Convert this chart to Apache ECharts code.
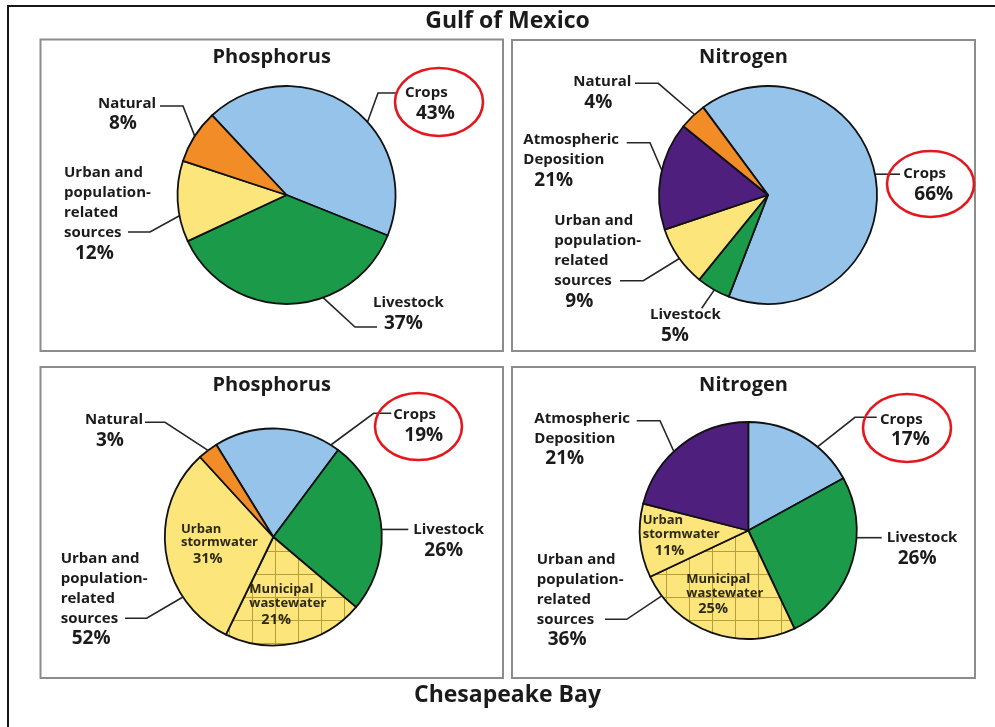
<!DOCTYPE html>
<html><head><meta charset="utf-8">
<script src="https://cdn.jsdelivr.net/npm/echarts@6/dist/echarts.min.js"></script>
<style>html,body{margin:0;padding:0;background:#fff}#c{width:995px;height:727px}</style>
</head><body><div id="c"></div>
<script>
// ---------------- DATA ----------------
const regionTitles = ['Gulf of Mexico', 'Chesapeake Bay'];
const panelTitles = ['Phosphorus', 'Nitrogen', 'Phosphorus', 'Nitrogen'];

// Gulf of Mexico - Phosphorus (clockwise order)
const gomPCategories = ['Crops', 'Livestock', 'Urban and\npopulation-\nrelated\nsources', 'Natural'];
const gomPValues = [43, 37, 12, 8];
const gomPPrinted = ['43%', '37%', '12%', '8%'];

// Gulf of Mexico - Nitrogen (slice sizes as drawn; printed percentages as labelled)
const gomNCategories = ['Crops', 'Livestock', 'Urban and\npopulation-\nrelated\nsources', 'Atmospheric\nDeposition', 'Natural'];
const gomNValues = [66, 5, 9, 16, 4];
const gomNPrinted = ['66%', '5%', '9%', '21%', '4%'];

// Chesapeake Bay - Phosphorus
const cbPCategories = ['Crops', 'Livestock', 'Municipal\nwastewater', 'Urban\nstormwater', 'Natural'];
const cbPValues = [19, 26, 21, 31, 3];
const cbPGroupName = 'Urban and\npopulation-\nrelated\nsources';
const cbPGroups = [[0], [1], [2, 3], [4]];

// Chesapeake Bay - Nitrogen
const cbNCategories = ['Crops', 'Livestock', 'Municipal\nwastewater', 'Urban\nstormwater', 'Atmospheric\nDeposition'];
const cbNValues = [17, 26, 25, 11, 21];
const cbNGroupName = 'Urban and\npopulation-\nrelated\nsources';
const cbNGroups = [[0], [1], [2, 3], [4]];

// ---------------- STYLE / LAYOUT ----------------
const FONT = '"Open Sans", "Noto Sans", sans-serif';
const NAME_FS = 15, NAME_LH = 20, PCT_FS = 19, PCT_LH = 21;
const IN_FS = 13, IN_LH = 13.5, IN_PCT_FS = 14.5, IN_PCT_LH = 19;
const TEXT = '#1b1b1b';

const hatch = document.createElement('canvas');
hatch.width = 23; hatch.height = 23;
(function () {
  const g = hatch.getContext('2d');
  g.fillStyle = '#FCE57A'; g.fillRect(0, 0, 23, 23);
  g.strokeStyle = '#B89E3A'; g.lineWidth = 1;
  g.beginPath(); g.moveTo(22.5, 0); g.lineTo(22.5, 23); g.moveTo(0, 22.5); g.lineTo(23, 22.5); g.stroke();
})();

const colorOf = {
  'Crops': '#95C3EA',
  'Livestock': '#1B9A4A',
  'Urban and\npopulation-\nrelated\nsources': '#FCE57A',
  'Urban\nstormwater': '#FCE57A',
  'Municipal\nwastewater': { image: hatch, repeat: 'repeat' },
  'Natural': '#F28C27',
  'Atmospheric\nDeposition': '#4F1F7E'
};

const P = {
  tl: { cx: 286.5, cy: 195, r: 109, start: 133 },
  tr: { cx: 768, cy: 195, r: 109, start: 126.5 },
  bl: { cx: 273.3, cy: 537, r: 108.5, start: 121.7 },
  br: { cx: 748.3, cy: 530.5, r: 108.5, start: 90 }
};

// leader-line / label placement (relative to pie centre)
const outerCfg = {
  tl: [
    { a: 42, e: [91.5, -102], hx: 110.5, tx: 118.5, ty: -102 },
    { a: -70.4, e: [68.5, 132], hx: 90.5, tx: 86.5, ty: 108 },
    { a: -169, e: [-136.5, 37], hx: -158.5, tx: -222.5, ty: -22 },
    { a: 147.3, e: [-103.5, -89], hx: -126.5, tx: -188.5, ty: -91.7 }
  ],
  tr: [
    { a: 11, e: null, hx: 132, tx: 135.3, ty: -21 },
    { a: -119.5, e: [-66.3, 113.3], hx: null, tx: -118, ty: 120 },
    { a: -144.4, e: [-124.7, 85.7], hx: -148, tx: -213.7, ty: 25.7 },
    { a: 166.9, e: [-118, -52.3], hx: -141.3, tx: -244.7, ty: -55 },
    { a: 132.4, e: [-109.7, -111.7], hx: -133, tx: -194.7, ty: -113.3 }
  ],
  bl: [
    { a: 58, e: [100.4, -123.7], hx: 118, tx: 120, ty: -122 },
    { a: 4, e: null, hx: 135, tx: 140, ty: -7 },
    { a: -146.4, e: [-126.6, 81.3], hx: -148.3, tx: -212.6, ty: 21.3 },
    { a: 127, e: [-108.3, -114.7], hx: -128.3, tx: -188.3, ty: -117 }
  ],
  br: [
    { a: 50.4, e: [106.7, -113.2], hx: 128.4, tx: 131.7, ty: -111.2 },
    { a: -3.8, e: null, hx: 133.4, tx: 138.4, ty: 7.2 },
    { a: -142.9, e: [-121.6, 88.8], hx: -143.3, tx: -211.6, ty: 28.8 },
    { a: 133.3, e: [-88.3, -109.8], hx: -111.6, tx: -214, ty: -112.2 }
  ]
};
const insideFrac = { bl: { 2: 0.64, 3: 0.5 }, br: { 2: 0.63, 3: 0.62 } };

function outerLayout(pp, cfgs) {
  return function (p) {
    const c = cfgs[p.dataIndex];
    if (!c) return {};
    const rad = c.a * Math.PI / 180;
    const ax = pp.cx + pp.r * Math.cos(rad), ay = pp.cy - pp.r * Math.sin(rad);
    const ex = c.e ? pp.cx + c.e[0] : ax, ey = c.e ? pp.cy + c.e[1] : ay;
    const hx = c.hx != null ? pp.cx + c.hx : ex;
    return {
      x: pp.cx + c.tx, y: pp.cy + c.ty - NAME_LH / 2, align: 'left', verticalAlign: 'top',
      labelLinePoints: [[ax, ay], [ex, ey], [hx, ey]]
    };
  };
}
function innerLayout(pp, fr) {
  return function (p) {
    const f = fr[p.dataIndex];
    if (f == null || !p.labelRect) return {};
    const lr = p.labelRect;
    const mx = lr.x + lr.width / 2, my = lr.y + lr.height / 2;
    const dx = mx - pp.cx, dy = my - pp.cy, d = Math.hypot(dx, dy) || 1;
    const nx = pp.cx + dx / d * f * pp.r, ny = pp.cy + dy / d * f * pp.r;
    return { x: nx - lr.width / 2, y: ny - lr.height / 2, align: 'left', verticalAlign: 'top' };
  };
}
function fmtOuter(names, printed) {
  return function (p) {
    const n = names[p.dataIndex].split('\n').map(s => '{n|' + s + '}').join('\n');
    return n + '\n{p|' + printed[p.dataIndex] + '}';
  };
}
const richOuter = {
  n: { fontSize: NAME_FS, lineHeight: NAME_LH, fontWeight: 'bold', fontFamily: FONT, color: TEXT },
  p: { fontSize: PCT_FS, lineHeight: PCT_LH, fontWeight: 'bold', fontFamily: FONT, color: TEXT, padding: [0, 0, 0, 11] }
};
const richInner = {
  n: { fontSize: IN_FS, lineHeight: IN_LH, fontWeight: 'bold', fontFamily: FONT, color: '#2e2a12' },
  p: { fontSize: IN_PCT_FS, lineHeight: IN_PCT_LH, fontWeight: 'bold', fontFamily: FONT, color: '#2e2a12', padding: [0, 0, 0, 12] }
};
const sliceBorder = { borderColor: '#111', borderWidth: 1.8 };
const leader = { show: true, length: 4, length2: 4, lineStyle: { color: '#262626', width: 1.6 } };

function basePie(pp) {
  return {
    type: 'pie', center: [pp.cx, pp.cy], radius: pp.r, startAngle: pp.start, clockwise: true,
    avoidLabelOverlap: false, animation: false, silent: true, emphasis: { disabled: true },
    minAngle: 0, minShowLabelAngle: 0
  };
}

// fully drawn + outer-labelled pie (Gulf panels)
function fullPie(pp, cats, vals, printed, cfgs) {
  return Object.assign(basePie(pp), {
    z: 3,
    data: cats.map((c, i) => ({ name: c, value: vals[i], itemStyle: Object.assign({ color: colorOf[c] }, sliceBorder) })),
    label: { show: true, position: 'outside', formatter: fmtOuter(cats, printed), rich: richOuter, color: TEXT },
    labelLine: leader,
    labelLayout: outerLayout(pp, cfgs)
  });
}
// detail pie with inside labels for sub-slices (Chesapeake panels)
function detailPie(pp, cats, vals, fr) {
  return Object.assign(basePie(pp), {
    z: 2,
    data: cats.map((c, i) => ({
      name: c, value: vals[i], itemStyle: Object.assign({ color: colorOf[c] }, sliceBorder),
      label: { show: fr[i] != null }
    })),
    label: {
      show: false, position: 'inside', textBorderWidth: 0, color: '#2e2a12',
      formatter: p => p.name.split('\n').map(s => '{n|' + s + '}').join('\n') + '\n{p|' + p.value + '%}',
      rich: richInner
    },
    labelLine: { show: false },
    labelLayout: innerLayout(pp, fr)
  });
}
// transparent group pie carrying outer labels
function groupPie(pp, cats, vals, groups, groupName, cfgs) {
  const names = groups.map(g => g.length > 1 ? groupName : cats[g[0]]);
  const gv = groups.map(g => g.reduce((s, k) => s + vals[k], 0));
  const printed = gv.map(v => v + '%');
  return Object.assign(basePie(pp), {
    z: 4,
    data: names.map((n, i) => ({ name: n, value: gv[i], itemStyle: { color: 'rgba(0,0,0,0)', borderWidth: 0 } })),
    label: { show: true, position: 'outside', formatter: fmtOuter(names, printed), rich: richOuter, color: TEXT },
    labelLine: leader,
    labelLayout: outerLayout(pp, cfgs)
  });
}

const boxes = [
  [40.5, 39.5, 462.5, 311.5], [512, 40, 463, 311],
  [40.5, 367, 462.5, 311], [512, 367, 463, 311]
];
const titlePos = [[271.7, 57.5], [743.5, 57.5], [271.7, 385], [743.5, 385]];
const ellipses = [[439, 102, 44, 34], [930.5, 184, 43.5, 33], [418.5, 426.5, 43.5, 33.5], [907, 428, 44, 34]];

const graphics = [];
graphics.push({ type: 'polyline', z: 1, shape: { points: [[8, 727], [8, 6], [995, 6]] }, style: { stroke: '#161616', lineWidth: 2, fill: null } });
boxes.forEach(b => graphics.push({ type: 'rect', z: 1, shape: { x: b[0], y: b[1], width: b[2], height: b[3] }, style: { stroke: '#8c8c8c', lineWidth: 2, fill: '#fff' } }));
graphics.push({ type: 'text', z: 5, style: { text: regionTitles[0], x: 507.5, y: 21, align: 'center', verticalAlign: 'middle', fontSize: 23, fontWeight: 'bold', fontFamily: FONT, fill: TEXT } });
graphics.push({ type: 'text', z: 5, style: { text: regionTitles[1], x: 507.5, y: 695, align: 'center', verticalAlign: 'middle', fontSize: 23, fontWeight: 'bold', fontFamily: FONT, fill: TEXT } });
panelTitles.forEach((t, i) => graphics.push({ type: 'text', z: 5, style: { text: t, x: titlePos[i][0], y: titlePos[i][1], align: 'center', verticalAlign: 'middle', fontSize: 20, fontWeight: 'bold', fontFamily: FONT, fill: TEXT } }));
ellipses.forEach(e => graphics.push({ type: 'ellipse', z: 100, shape: { cx: e[0], cy: e[1], rx: e[2], ry: e[3] }, style: { stroke: '#E3171D', lineWidth: 2.6, fill: null } }));

const chart = echarts.init(document.getElementById('c'), null, { renderer: 'canvas', width: 995, height: 727 });
chart.setOption({
  backgroundColor: '#fff',
  animation: false,
  graphic: { elements: graphics },
  series: [
    fullPie(P.tl, gomPCategories, gomPValues, gomPPrinted, outerCfg.tl),
    fullPie(P.tr, gomNCategories, gomNValues, gomNPrinted, outerCfg.tr),
    detailPie(P.bl, cbPCategories, cbPValues, insideFrac.bl),
    groupPie(P.bl, cbPCategories, cbPValues, cbPGroups, cbPGroupName, outerCfg.bl),
    detailPie(P.br, cbNCategories, cbNValues, insideFrac.br),
    groupPie(P.br, cbNCategories, cbNValues, cbNGroups, cbNGroupName, outerCfg.br)
  ]
});
</script></body></html>
